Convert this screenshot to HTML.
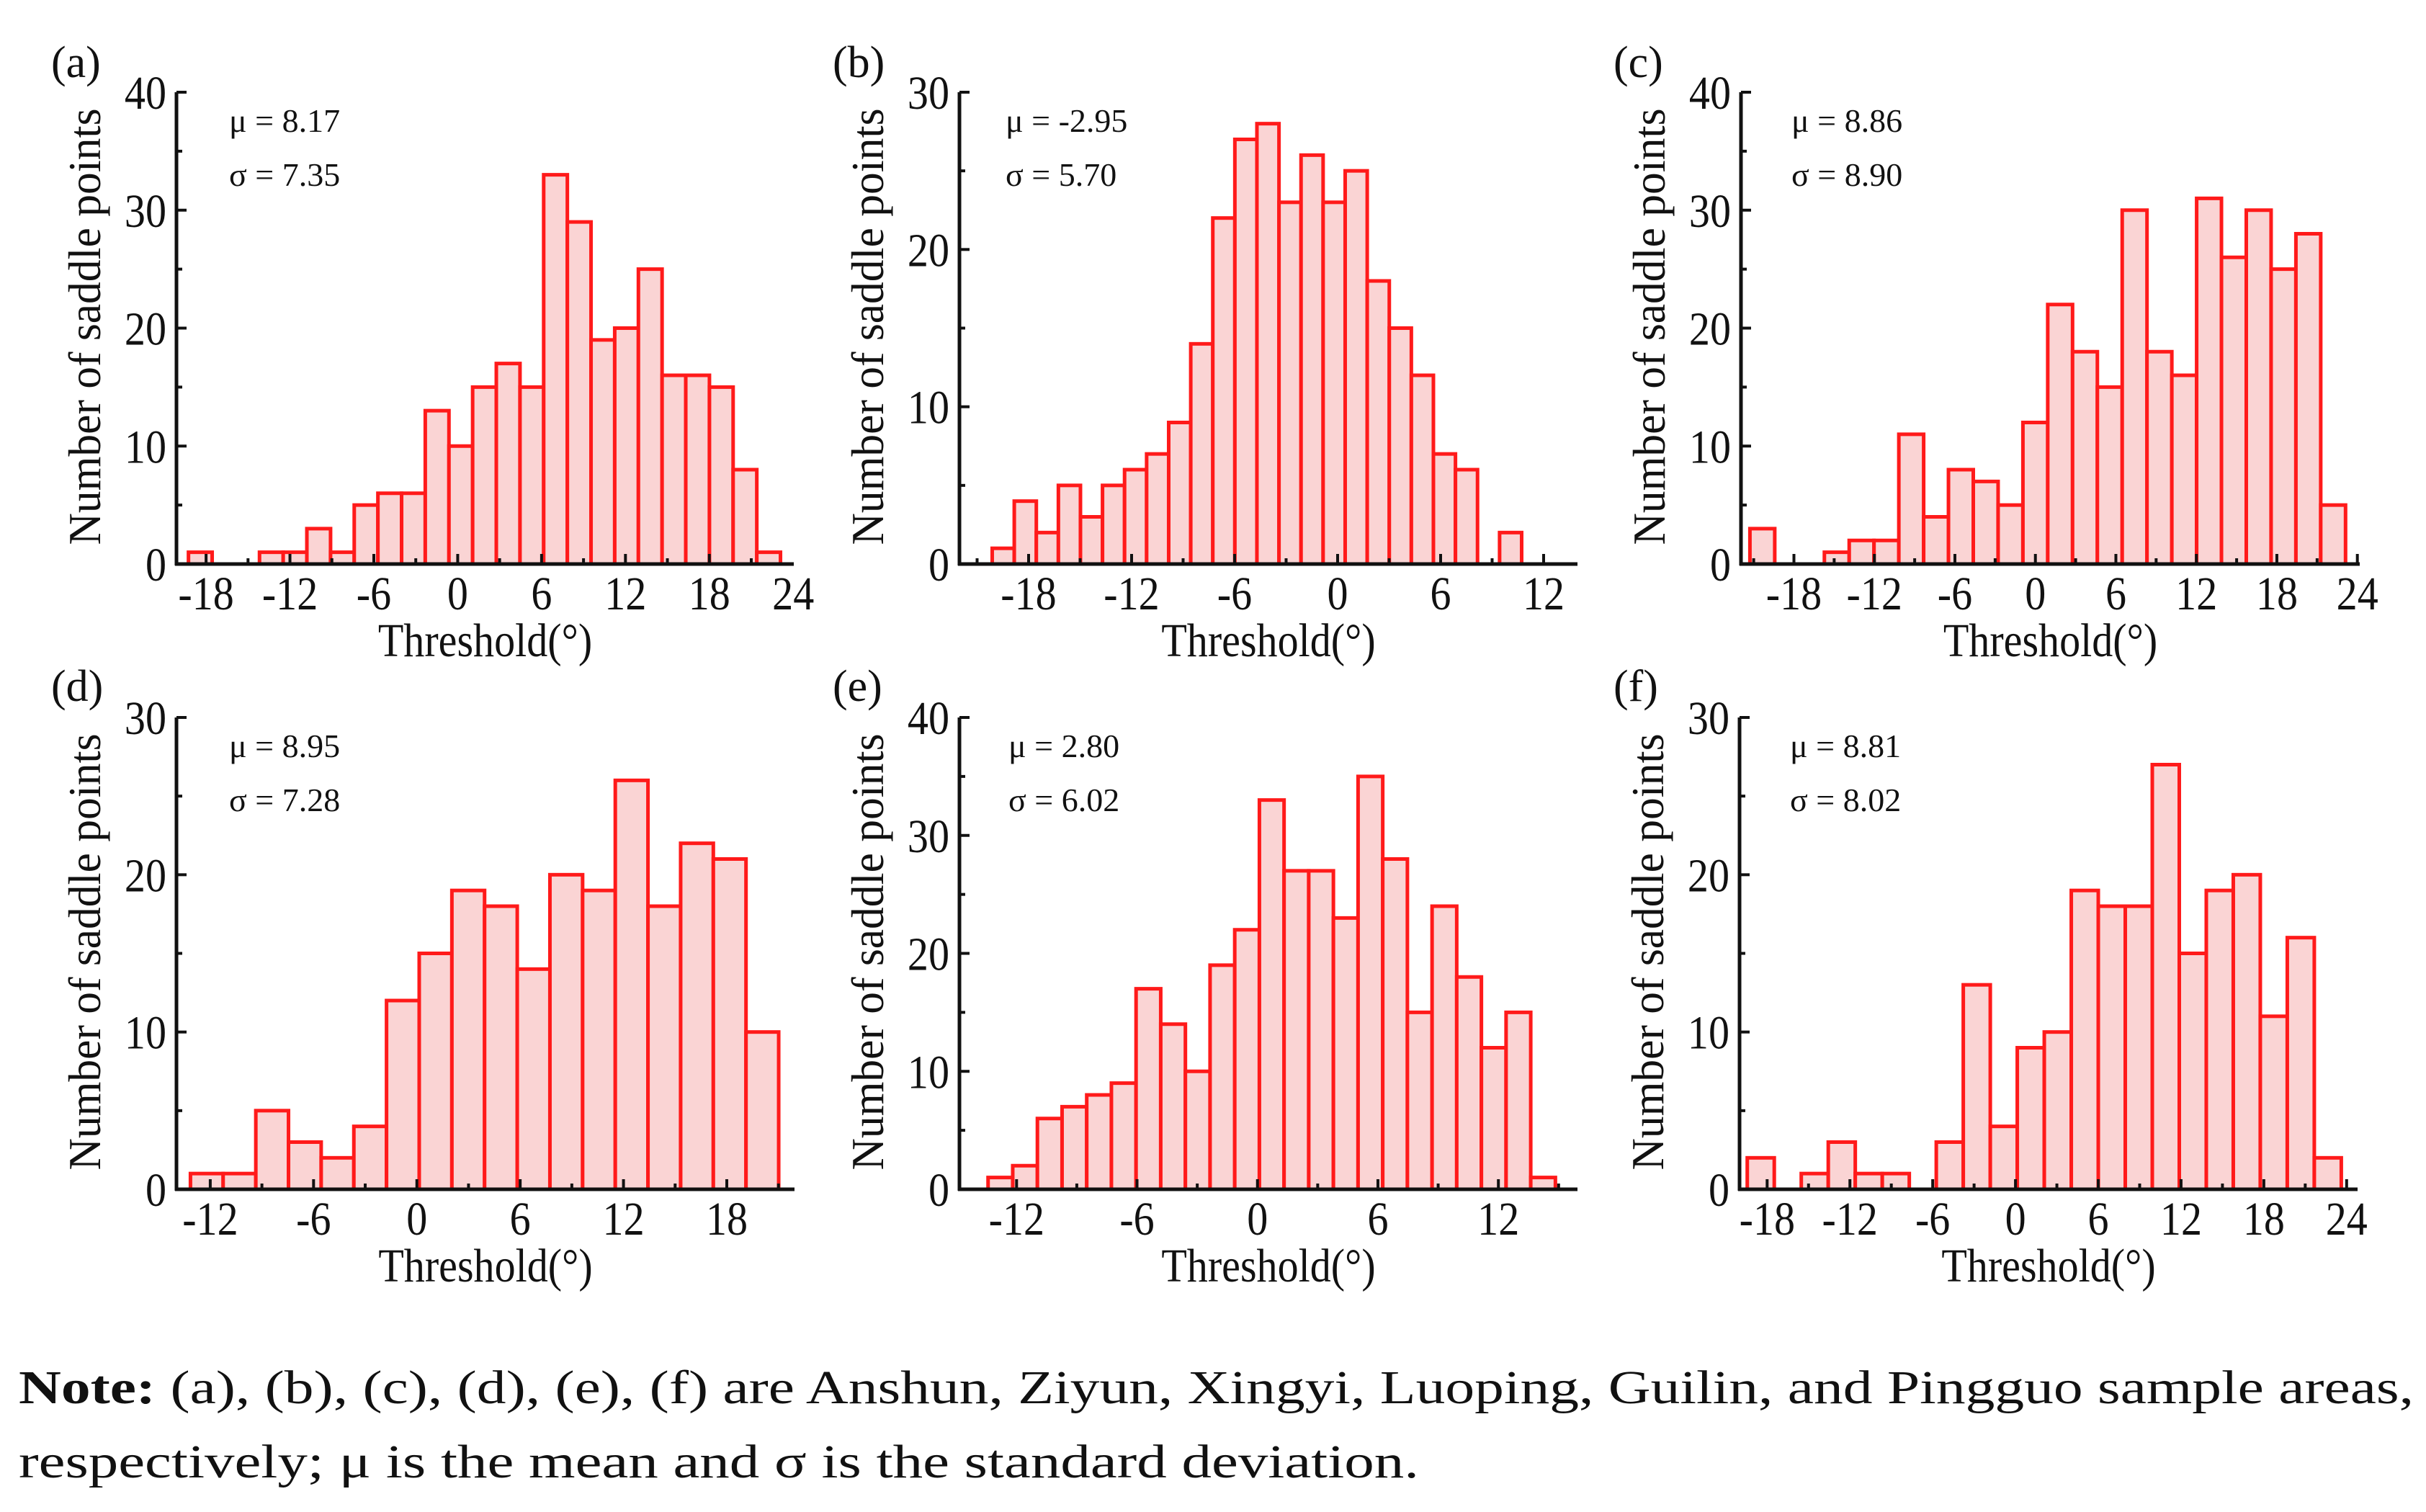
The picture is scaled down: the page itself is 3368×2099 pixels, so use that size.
<!DOCTYPE html>
<html><head><meta charset="utf-8">
<style>
html,body{margin:0;padding:0;background:#fff;}
svg{display:block;}
text{font-family:"Liberation Serif",serif;fill:#111;}
</style></head>
<body>
<svg id="fig" width="3368" height="2099" viewBox="0 0 3368 2099" xmlns="http://www.w3.org/2000/svg">
<text x="26" y="1948" font-size="66" textLength="3325" lengthAdjust="spacingAndGlyphs"><tspan font-weight="bold">Note:</tspan> (a), (b), (c), (d), (e), (f) are Anshun, Ziyun, Xingyi, Luoping, Guilin, and Pingguo sample areas,</text>
<text x="26" y="2051" font-size="66" textLength="1944" lengthAdjust="spacingAndGlyphs">respectively; μ is the mean and σ is the standard deviation.</text>
</svg>
<script>
// ---- data ----
const countsA = [1,0,0,1,1,3,1,5,6,6,13,10,15,17,15,33,29,19,20,25,16,16,15,8,1];
const countsB = [1,4,2,5,3,5,6,7,9,14,22,27,28,23,26,23,25,18,15,12,7,6,0,2];
const countsC = [3,0,0,1,2,2,11,4,8,7,5,12,22,18,15,30,18,16,31,26,30,25,28,5];
const countsD = [1,1,5,3,2,4,12,15,19,18,14,20,19,26,18,22,21,10];
const countsE = [1,2,6,7,8,9,17,14,10,19,22,33,27,27,23,35,28,15,24,18,12,15,1];
const countsF = [2,0,1,3,1,1,0,3,13,4,9,10,19,18,18,27,15,19,20,11,16,2];
const binStarts = [-19.26,-20.12,-21.28,-13.15,-13.42,-19.44];
const binWidths = [1.694,1.285,1.85,1.898,1.2287,1.957];
const xTicksA = [-18,-12,-6,0,6,12,18,24];
const xTicksB = [-18,-12,-6,0,6,12];
const xTicksC = [-18,-12,-6,0,6,12,18,24];
const xTicksD = [-12,-6,0,6,12,18];
const xTicksE = [-12,-6,0,6,12];
const xTicksF = [-18,-12,-6,0,6,12,18,24];
const yMaxes = [40,30,40,30,40,30];
const panelLabels = ["(a)","(b)","(c)","(d)","(e)","(f)"];
const muTexts = ["μ = 8.17","μ = -2.95","μ = 8.86","μ = 8.95","μ = 2.80","μ = 8.81"];
const sigmaTexts = ["σ = 7.35","σ = 5.70","σ = 8.90","σ = 7.28","σ = 6.02","σ = 8.02"];

// ---- layout (pixels) ----
const layout = [
 {ax:245, top:128, base:783, t1v:-18, t1p:286.1, t2v:24, t2p:1101.2, xEnd:1102, lab:71, labY:107, mu:318},
 {ax:1332, top:128, base:783, t1v:-18, t1p:1428, t2v:12, t2p:2143, xEnd:2190, lab:1156, labY:107, mu:1396},
 {ax:2417, top:128, base:783, t1v:-18, t1p:2490.5, t2v:24, t2p:3272.7, xEnd:3276, lab:2240, labY:107, mu:2487},
 {ax:245, top:996, base:1651, t1v:-12, t1p:291.9, t2v:18, t2p:1009, xEnd:1103, lab:71, labY:973, mu:318},
 {ax:1332, top:996, base:1651, t1v:-12, t1p:1411.3, t2v:12, t2p:2080.2, xEnd:2190, lab:1156, labY:973, mu:1400},
 {ax:2415, top:996, base:1651, t1v:-18, t1p:2453.3, t2v:24, t2p:3257.8, xEnd:3273, lab:2240, labY:973, mu:2485}
];
const allCounts = [countsA,countsB,countsC,countsD,countsE,countsF];
const allTicks = [xTicksA,xTicksB,xTicksC,xTicksD,xTicksE,xTicksF];
const names = ["a","b","c","d","e","f"];
const NS = "http://www.w3.org/2000/svg";
const svg = document.getElementById('fig');
function mk(tag, attrs, parent){
  const e = document.createElementNS(NS, tag);
  for (const k in attrs) e.setAttribute(k, attrs[k]);
  (parent||svg).appendChild(e); return e;
}
function ntext(parent, x, y, size, anchor, str){
  // horizontally condensed text (Times-like narrow digits)
  const t = mk('text',{x:0,y:0,'font-size':size,'text-anchor':anchor,transform:'translate('+x+' '+y+') scale(0.88 1)'},parent);
  t.textContent = str;
  return t;
}
for (let p=0;p<6;p++){
  const L = layout[p], counts = allCounts[p], ticks = allTicks[p], ymax = yMaxes[p];
  const pxu = (L.t2p-L.t1p)/(L.t2v-L.t1v);
  const xs = v => L.t1p + (v-L.t1v)*pxu;
  const ys = v => L.base - v/ymax*(L.base-L.top);
  const g = mk('g',{});
  
  
  for (let i=0;i<counts.length;i++){
    if (counts[i]<=0) continue;
    const x0 = xs(binStarts[p]+i*binWidths[p]), x1 = xs(binStarts[p]+(i+1)*binWidths[p]);
    const r = mk('rect',{x:x0,y:ys(counts[i]),width:x1-x0,height:L.base-ys(counts[i]),fill:'#fad4d4',stroke:'#ff1a1a','stroke-width':5},g);
    
    
  }
  const ya = mk('line',{x1:L.ax,y1:L.top,x2:L.ax,y2:L.base+2,stroke:'#111','stroke-width':5},g);
  
  
  const xa = mk('line',{x1:L.ax-2,y1:L.base,x2:L.xEnd,y2:L.base,stroke:'#111','stroke-width':5},g);
  
  
  for (let v=0; v<=ymax; v+=5){
    const major = v%10===0;
    mk('line',{x1:L.ax,y1:ys(v),x2:L.ax+(major?14:8),y2:ys(v),stroke:'#111','stroke-width':4},g);
    if (major){
      const t = ntext(g, L.ax-14, ys(v)+23, 66, 'end', String(v));
      
      
    }
  }
  for (let v=ticks[0]-6; v<=ticks[ticks.length-1]+6; v+=3){
    const x = xs(v);
    if (x < L.ax+3 || x > L.xEnd-2) continue;
    const major = ticks.indexOf(v)>=0;
    mk('line',{x1:x,y1:L.base,x2:x,y2:L.base-(major?14:8),stroke:'#111','stroke-width':4},g);
  }
  for (const v of ticks){
    const t = ntext(g, xs(v), L.base+63, 66, 'middle', String(v));
    
    
  }
  const xt = ntext(g, (L.ax+L.xEnd)/2, L.base+128, 66, 'middle', 'Threshold(°)');
  
  
  const cy = (L.top+L.base)/2 - 2;
  const yt = mk('text',{x:L.ax-106,y:cy,'font-size':64,'text-anchor':'middle',transform:'rotate(-90 '+(L.ax-106)+' '+cy+')',textLength:606,lengthAdjust:'spacingAndGlyphs'},g);
  yt.textContent = 'Number of saddle points';
  
  
  const pl = mk('text',{x:L.lab,y:L.labY,'font-size':62},g);
  pl.textContent = panelLabels[p];
  
  
  const mu = mk('text',{x:L.mu,y:L.top+55,'font-size':46,fill:'#333'},g);
  mu.textContent = muTexts[p];
  
  
  const sg = mk('text',{x:L.mu,y:L.top+130,'font-size':46,fill:'#333'},g);
  sg.textContent = sigmaTexts[p];
  
  
}
</script>
</body></html>
